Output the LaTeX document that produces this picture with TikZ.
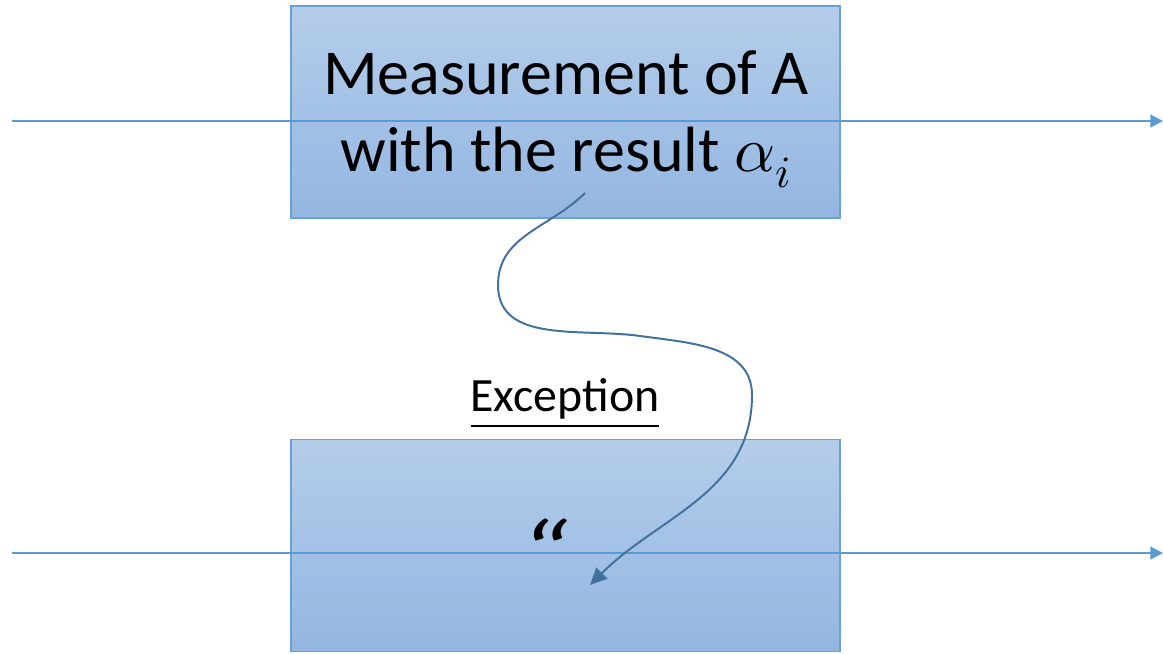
\documentclass[tikz,border=0pt]{standalone}
\usepackage{fontspec}
\usepackage{unicode-math}
\setmainfont{Carlito}
\setmathfont{Latin Modern Math}
\usepackage{tikz}
\usetikzlibrary{arrows.meta}

\definecolor{boxtop}{HTML}{B4CDEA}
\definecolor{boxbot}{HTML}{93B6E2}
\definecolor{boxline}{HTML}{6A9FD8}
\definecolor{axisline}{HTML}{5B9BD5}
\definecolor{jumpline}{HTML}{41719C}

\begin{document}
\begin{tikzpicture}[
  evt/.style   = {draw=boxline, line width=0.8pt, top color=boxtop,
                  bottom color=boxbot, minimum width=13.725cm,
                  minimum height=5.3cm, align=center, inner sep=0pt},
  axis/.style  = {-{Triangle[length=9pt,width=9pt]}, line width=1.5pt,
                  color=axisline},
  jump/.style  = {-{Triangle[length=12pt,width=11pt]}, line width=1.4pt,
                  color=jumpline},
]
\useasboundingbox (0,0) rectangle (29.075,16.35);

%% ── Boxes ───────────────────────────────────────────────────────────────────
\node[evt] (meas) at (14.1375,13.55) {};
\node[evt] (ditto) at (14.1375,2.7125) {};
\node[font=\fontsize{45.5}{55}\selectfont, align=center] (mtext) at (14.15,13.37)
  {Measurement of A\\with the result $\alpha_i$};
\node[font=\fontsize{66}{70}\selectfont\itshape, anchor=base, inner sep=0pt,
      xscale=1.25] (dmark) at (13.6,1.72) {“};

%% ── Time lines ──────────────────────────────────────────────────────────────
\coordinate (L1) at (0.3,13.325);   \coordinate (R1) at (29.075,13.325);
\coordinate (L2) at (0.3,2.525);    \coordinate (R2) at (29.075,2.525);
\draw[axis] (L1) -- (R1);
\draw[axis] (L2) -- (R2);

%% ── Exception ───────────────────────────────────────────────────────────────
\node[font=\fontsize{34}{40}\selectfont] (exc) at (14.125,6.25) {\underline{Exception}};

\coordinate (jA) at (14.625,11.525);
\coordinate (jB) at (12.45,9.225);
\coordinate (jC) at (16.0,7.95);
\coordinate (jD) at (18.8,6.475);
\coordinate (jE) at (14.75,1.725);
\draw[jump] (jA) to[out=225,in=90] (jB) to[out=-90,in=172] (jC)
            to[out=-8,in=90] (jD) to[out=-90,in=45] (jE);

\end{tikzpicture}
\end{document}
